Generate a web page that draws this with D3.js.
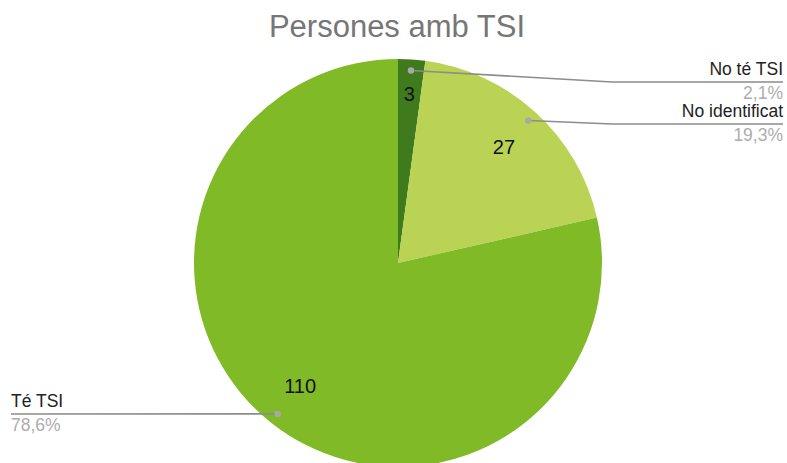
<!DOCTYPE html>
<html>
<head>
<meta charset="utf-8">
<script src="https://cdn.jsdelivr.net/npm/d3@7"></script>
<style>
  body { margin: 0; background: #fff; }
  svg { display: block; font-family: Arial, "Liberation Sans", sans-serif; }
</style>
</head>
<body>
<div id="chart"></div>
<script>
// data
var categories = ["No té TSI", "No identificat", "Té TSI"];
var values = [3, 27, 110];
var colors = ["#3f7a1d", "#bad354", "#80ba27"];

var width = 787, height = 463;
var cx = 398, cy = 263, radius = 204;

var svg = d3.select("#chart").append("svg")
    .attr("width", width)
    .attr("height", height);

// title
svg.append("text")
    .attr("x", 397)
    .attr("y", 37)
    .attr("text-anchor", "middle")
    .style("font-size", "31px")
    .style("fill", "#767676")
    .text("Persones amb TSI");

var total = d3.sum(values);
var data = categories.map(function(c, i) {
  return {name: c, value: values[i], color: colors[i]};
});

var pie = d3.pie().sort(null).value(function(d) { return d.value; });
var arc = d3.arc().innerRadius(0).outerRadius(radius);
var dotArc = d3.arc().innerRadius(193).outerRadius(193);
var labelArc = d3.arc().innerRadius(157).outerRadius(157);
var smallLabelArc = d3.arc().innerRadius(170).outerRadius(170);

var g = svg.append("g")
    .attr("transform", "translate(" + cx + "," + cy + ")");

var arcs = pie(data);

g.selectAll("path")
    .data(arcs)
  .enter().append("path")
    .attr("d", arc)
    .attr("fill", function(d) { return d.data.color; });

// value labels inside slices
g.selectAll("text.val")
    .data(arcs)
  .enter().append("text")
    .attr("class", "val")
    .attr("transform", function(d) {
      var a = (d.endAngle - d.startAngle) < 0.2 ? smallLabelArc : labelArc;
      return "translate(" + a.centroid(d) + ")";
    })
    .attr("text-anchor", "middle")
    .attr("dy", "0.36em")
    .style("font-size", "20px")
    .style("fill", "#111")
    .text(function(d) { return d.data.value; });

// leader lines and outside labels
var fmt = function(v) { return d3.format(".1f")(v / total * 100).replace(".", ",") + "%"; };

// where each leader ends up, in page coords: bend x, line y, end x, anchor
var leaders = [
  {bend: 612, y: 82, end: 783, anchor: "end"},
  {bend: 612, y: 124, end: 783, anchor: "end"},
  {bend: 11, y: 414, end: 11, anchor: "start"}
];

arcs.forEach(function(d, i) {
  var p = dotArc.centroid(d);
  var px = cx + p[0], py = cy + p[1];
  var L = leaders[i];

  svg.append("polyline")
      .attr("points", [[px, py], [L.bend, L.y], [L.end, L.y]].map(function(q) { return q.join(","); }).join(" "))
      .attr("fill", "none")
      .attr("stroke", "#8c8c8c")
      .attr("stroke-width", 1.6);

  svg.append("circle")
      .attr("cx", px)
      .attr("cy", py)
      .attr("r", 3.2)
      .attr("fill", "#a8a8a8");

  svg.append("text")
      .attr("x", L.end)
      .attr("y", L.y - 7)
      .attr("text-anchor", L.anchor)
      .style("font-size", "17.5px")
      .style("fill", "#222")
      .text(d.data.name);

  svg.append("text")
      .attr("x", L.end)
      .attr("y", L.y + 16.5)
      .attr("text-anchor", L.anchor)
      .style("font-size", "17.5px")
      .style("fill", "#adadad")
      .text(fmt(d.data.value));
});
</script>
</body>
</html>
